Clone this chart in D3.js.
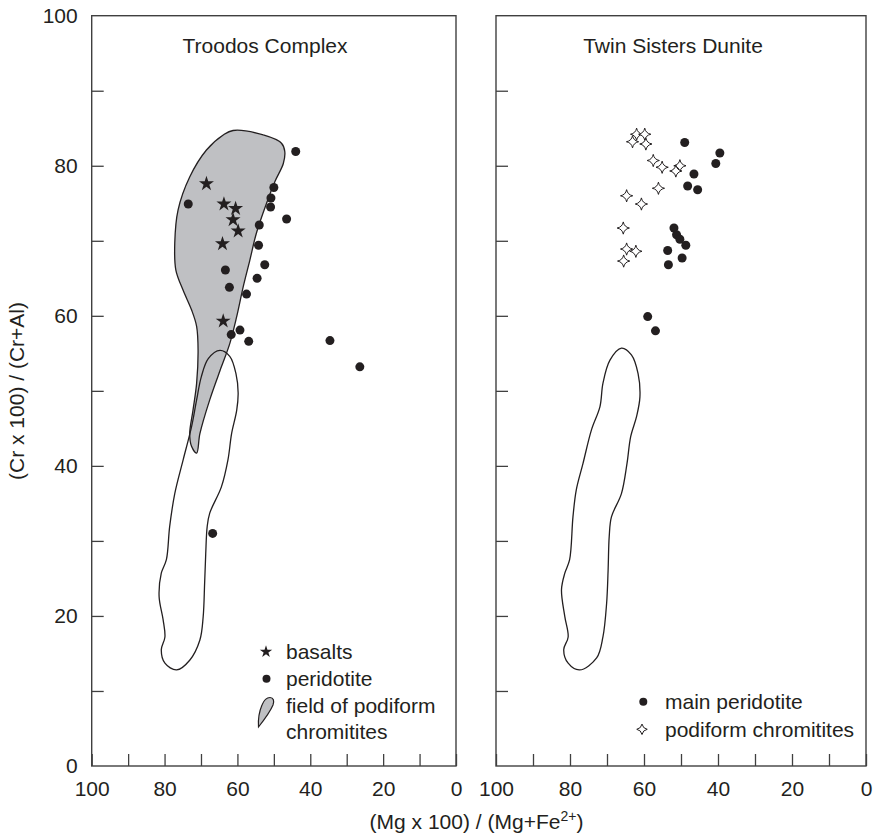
<!DOCTYPE html>
<html>
<head>
<meta charset="utf-8">
<script src="https://cdn.jsdelivr.net/npm/d3@7"></script>
<style>
  html, body { margin: 0; padding: 0; background: #fff; }
  svg { display: block; }
  text { font-family: "Liberation Sans", Arial, Helvetica, sans-serif; fill: #231f20; }
</style>
</head>
<body>
<svg id="chart" width="873" height="835"></svg>
<script>
// ---------------- DATA ----------------
const panelTitles = ["Troodos Complex", "Twin Sisters Dunite"];
const xTickValues = [0, 10, 20, 30, 40, 50, 60, 70, 80, 90, 100];
const yTickValues = [0, 10, 20, 30, 40, 50, 60, 70, 80, 90, 100];
const labeledTicks = [0, 20, 40, 60, 80, 100];
const xAxisTitle = "(Mg x 100) / (Mg+Fe";
const yAxisTitle = "(Cr x 100) / (Cr+Al)";

// Troodos: basalts [Mg#, Cr#]
const troodosBasalts = [
  [68.5, 77.6], [63.7, 74.9], [60.5, 74.3], [61.2, 72.8], [59.8, 71.3], [64.1, 69.6], [63.9, 59.3]
];
// Troodos: peridotite
const troodosPeridotite = [
  [44.0, 81.9], [73.5, 74.9], [50.0, 77.1], [50.8, 75.7], [50.9, 74.5], [46.5, 72.9],
  [54.0, 72.1], [54.2, 69.4], [52.5, 66.8], [54.6, 65.0], [63.3, 66.1], [62.2, 63.8],
  [57.5, 62.9], [59.3, 58.1], [61.7, 57.5], [56.9, 56.6], [34.6, 56.7], [26.4, 53.2],
  [66.8, 31.0]
];
// Troodos: field of podiform chromitites (outline)
const troodosChromiteField = [
  [61.2, 84.7], [52.9, 84.1], [47.9, 83.0], [47.0, 81.9], [47.4, 80.3], [49.7, 77.9],
  [52.0, 75.0], [54.8, 71.0], [56.6, 67.4], [58.4, 63.9], [60.2, 59.9], [62.1, 56.3],
  [64.4, 53.2], [67.6, 48.8], [70.3, 44.3], [71.2, 41.7], [72.6, 42.6], [73.1, 44.3],
  [72.2, 47.4], [71.2, 51.0], [70.8, 55.4], [71.2, 58.6], [72.6, 60.8], [74.9, 63.4],
  [76.9, 66.1], [77.2, 69.7], [76.3, 74.1], [73.1, 78.5], [68.5, 82.1], [63.9, 84.1]
];
// Open (unfilled) field outline, left panel
const openFieldLeft = [
  [64.8, 55.4], [62.1, 54.6], [60.4, 52.3], [59.8, 49.7], [60.2, 47.4], [61.6, 44.3],
  [62.6, 40.8], [64.4, 37.2], [67.6, 33.7], [68.3, 31.9], [68.7, 28.3], [69.0, 24.4],
  [69.4, 19.9], [70.3, 16.8], [73.1, 14.1], [76.7, 12.8], [79.9, 13.7], [80.9, 15.5],
  [79.9, 17.2], [80.4, 19.5], [81.5, 22.6], [80.9, 25.7], [79.5, 27.5], [78.6, 31.9],
  [77.2, 36.3], [74.9, 40.8], [72.6, 45.2], [71.2, 48.8], [69.9, 51.9], [68.0, 54.3]
];
// Open field outline, right panel
const openFieldRight = [
  [66.1, 55.7], [63.4, 54.8], [61.6, 52.3], [61.1, 49.2], [62.0, 46.6], [63.6, 43.9],
  [64.6, 40.3], [66.1, 36.3], [68.8, 33.2], [69.4, 30.6], [69.7, 26.1], [70.1, 21.7],
  [71.1, 17.2], [72.8, 14.4], [77.4, 12.8], [80.5, 13.7], [81.7, 15.5], [80.5, 17.2],
  [81.4, 19.9], [82.3, 23.5], [81.4, 25.7], [80.1, 27.5], [79.2, 33.2], [78.3, 36.8],
  [76.5, 40.3], [74.2, 44.8], [71.9, 47.9], [71.1, 51.0], [69.2, 54.1]
];
// Twin Sisters: main peridotite
const twinPeridotite = [
  [49.0, 83.1], [39.5, 81.7], [40.6, 80.3], [46.5, 78.9], [48.2, 77.3], [45.5, 76.8],
  [51.9, 71.7], [51.2, 70.8], [50.3, 70.2], [48.7, 69.4], [53.6, 68.7], [49.7, 67.7],
  [53.4, 66.8], [59.0, 59.9], [56.9, 58.0]
];
// Twin Sisters: podiform chromitites
const twinChromitites = [
  [62.0, 84.2], [59.8, 84.2], [63.1, 83.2], [59.5, 82.9], [57.5, 80.7], [55.1, 79.8],
  [50.3, 80.0], [51.4, 79.3], [56.1, 77.0], [64.7, 76.0], [60.7, 74.9], [65.6, 71.7],
  [64.7, 68.9], [62.2, 68.6], [65.5, 67.3]
];

// ---------------- LAYOUT ----------------
const svg = d3.select("#chart");
const TOP = 15.7, BOTTOM = 766;
const panels = [
  { x0: 91.7, x1: 456 },
  { x0: 496, x1: 866 }
];
const FS = 21;
const ink = "#231f20";
const frameColor = "#404040";
const grey = "#bfc0c3";

const y = d3.scaleLinear().domain([0, 100]).range([BOTTOM, TOP]);
panels.forEach(p => { p.x = d3.scaleLinear().domain([100, 0]).range([p.x0, p.x1]); });

const closedCurve = (xs) => d3.line().x(d => xs(d[0])).y(d => y(d[1])).curve(d3.curveCatmullRomClosed.alpha(0.5));

// four-point star symbol (sparkle)
const sparkle = {
  draw(context, size) {
    const r = Math.sqrt(size) / 2;
    const c = r * 0.16;
    context.moveTo(0, -r);
    context.quadraticCurveTo(c, -c, r, 0);
    context.quadraticCurveTo(c, c, 0, r);
    context.quadraticCurveTo(-c, c, -r, 0);
    context.quadraticCurveTo(-c, -c, 0, -r);
    context.closePath();
  }
};

function drawAxes(p, showYLabels) {
  const g = svg.append("g");
  const xAxis = d3.axisBottom(p.x).tickValues(xTickValues).tickSize(-12).tickSizeOuter(0).tickPadding(15)
    .tickFormat(d => labeledTicks.includes(d) ? d3.format("d")(d) : "");
  const gx = g.append("g").attr("transform", `translate(0,${BOTTOM})`).call(xAxis);
  const yAxis = d3.axisLeft(y).tickValues(yTickValues.filter(v => v > 0 && v < 100)).tickSize(-12).tickSizeOuter(0).tickPadding(14)
    .tickFormat(d => (showYLabels && labeledTicks.includes(d)) ? d3.format("d")(d) : "");
  const gy = g.append("g").attr("transform", `translate(${p.x0},0)`).call(yAxis);
  if (showYLabels) {
    const gy2 = g.append("g").attr("transform", `translate(${p.x0},0)`)
      .call(d3.axisLeft(y).tickValues([0, 100]).tickSize(0).tickPadding(14).tickFormat(d3.format("d")));
    gy2.select(".domain").remove();
  }
  [gx, gy].forEach(a => {
    a.select(".domain").remove();
    a.selectAll(".tick line").attr("stroke", frameColor).attr("stroke-width", 1.3);
  });
  g.selectAll("text").style("font-size", FS + "px").style("font-family", '"Liberation Sans", Arial, sans-serif').style("fill", ink);
  svg.append("rect")
    .attr("x", p.x0).attr("y", TOP)
    .attr("width", p.x1 - p.x0).attr("height", BOTTOM - TOP)
    .attr("fill", "none").attr("stroke", frameColor).attr("stroke-width", 1.4);
}

// ---------- Left panel ----------
const L = panels[0];
svg.append("path").datum(troodosChromiteField)
  .attr("d", closedCurve(L.x)).attr("fill", grey).attr("stroke", ink).attr("stroke-width", 1.3);
svg.append("path").datum(openFieldLeft)
  .attr("d", closedCurve(L.x)).attr("fill", "none").attr("stroke", ink).attr("stroke-width", 1.3);
svg.append("g").selectAll("circle").data(troodosPeridotite).join("circle")
  .attr("cx", d => L.x(d[0])).attr("cy", d => y(d[1])).attr("r", 4.5).attr("fill", ink);
svg.append("g").selectAll("path").data(troodosBasalts).join("path")
  .attr("transform", d => `translate(${L.x(d[0])},${y(d[1])})`)
  .attr("d", d3.symbol(d3.symbolStar, 70)).attr("fill", ink);
drawAxes(L, true);
svg.append("text").attr("x", 265).attr("y", 53).attr("text-anchor", "middle")
  .style("font-size", FS + "px").text(panelTitles[0]);

// Left legend
const lg = svg.append("g");
lg.append("path").attr("transform", "translate(266,651.7)").attr("d", d3.symbol(d3.symbolStar, 48)).attr("fill", ink);
lg.append("text").attr("x", 286).attr("y", 651.7).attr("dy", "0.35em").style("font-size", FS + "px").text("basalts");
lg.append("circle").attr("cx", 266.5).attr("cy", 678.7).attr("r", 4).attr("fill", ink);
lg.append("text").attr("x", 286).attr("y", 678.7).attr("dy", "0.35em").style("font-size", FS + "px").text("peridotite");
lg.append("path")
  .attr("d", "M270,697.5 C273.5,697.5 274.5,701 273,705 C270.5,711 264,720 258.5,727 C258,720 259,712 262,705 C264,700 266.5,697.5 270,697.5 Z")
  .attr("fill", grey).attr("stroke", ink).attr("stroke-width", 1.2);
lg.append("text").attr("x", 286).attr("y", 706).attr("dy", "0.35em").style("font-size", FS + "px").text("field of podiform");
lg.append("text").attr("x", 286).attr("y", 732).attr("dy", "0.35em").style("font-size", FS + "px").text("chromitites");

// ---------- Right panel ----------
const R = panels[1];
svg.append("path").datum(openFieldRight)
  .attr("d", closedCurve(R.x)).attr("fill", "none").attr("stroke", ink).attr("stroke-width", 1.3);
svg.append("g").selectAll("circle").data(twinPeridotite).join("circle")
  .attr("cx", d => R.x(d[0])).attr("cy", d => y(d[1])).attr("r", 4.5).attr("fill", ink);
svg.append("g").selectAll("path").data(twinChromitites).join("path")
  .attr("transform", d => `translate(${R.x(d[0])},${y(d[1])})`)
  .attr("d", d3.symbol(sparkle, 150)).attr("fill", "#fff").attr("stroke", ink).attr("stroke-width", 1);
drawAxes(R, false);
svg.append("text").attr("x", 673).attr("y", 53).attr("text-anchor", "middle")
  .style("font-size", FS + "px").text(panelTitles[1]);

// Right legend
const rg = svg.append("g");
rg.append("circle").attr("cx", 643.3).attr("cy", 701.7).attr("r", 4).attr("fill", ink);
rg.append("text").attr("x", 665).attr("y", 701.7).attr("dy", "0.35em").style("font-size", FS + "px").text("main peridotite");
rg.append("path").attr("transform", "translate(642,729.3)").attr("d", d3.symbol(sparkle, 110))
  .attr("fill", "#fff").attr("stroke", ink).attr("stroke-width", 1);
rg.append("text").attr("x", 665).attr("y", 729.3).attr("dy", "0.35em").style("font-size", FS + "px").text("podiform chromitites");

// ---------- Axis titles ----------
const xt = svg.append("text").attr("x", 476.5).attr("y", 829).attr("text-anchor", "middle").style("font-size", FS + "px");
xt.append("tspan").text(xAxisTitle);
xt.append("tspan").attr("dy", -8).style("font-size", "14px").text("2+");
xt.append("tspan").attr("dy", 8).text(")");

svg.append("text")
  .attr("transform", `translate(24,391) rotate(-90)`)
  .attr("text-anchor", "middle")
  .style("font-size", FS + "px")
  .text(yAxisTitle);
</script>
</body>
</html>
